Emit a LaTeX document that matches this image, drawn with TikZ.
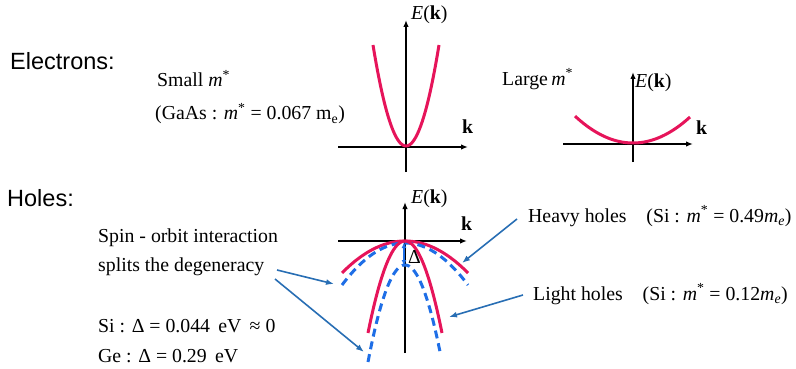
\documentclass[tikz,border=0pt]{standalone}
\usepackage{fontspec}
\setmainfont{Liberation Serif}
\newfontfamily\arialf{Liberation Sans}
\usetikzlibrary{arrows.meta}
\definecolor{bandred}{RGB}{230,20,90}
\definecolor{banddash}{RGB}{30,110,230}
\definecolor{annblue}{RGB}{40,110,180}
\tikzset{
  heading/.style={font=\arialf\fontsize{23.5}{28}\selectfont, anchor=base west, inner sep=0pt},
  lbl/.style={font=\fontsize{19.8}{24}\selectfont, anchor=base west, inner sep=0pt},
  axis/.style={black, line width=1.5pt, -{Latex[length=7pt,width=5.5pt]}},
  redband/.style={bandred, line width=3pt},
  dashband/.style={banddash, line width=3pt, dash pattern=on 8pt off 5pt},
  annot/.style={annblue, line width=1.6pt, -{Latex[length=8pt,width=6pt]}}
}
\newcommand{\mstar}{\textit{m}\textsuperscript{*}}
\newcommand{\Ek}{\textit{E}(\textbf{k})}
\begin{document}
\begin{tikzpicture}[x=1pt,y=-1pt]
\useasboundingbox (0,0) rectangle (796,369);
% headings
\node[heading] (el) at (10,70) {Electrons:};
\node[heading] (ho) at (7,206) {Holes:};
% electron labels
\node[lbl] (small) at (157,87) {Small \mstar};
\node[lbl] (gaas) at (155,120) {(GaAs : \mstar\ = 0.067 m\textsubscript{e})};
\node[lbl] (large) at (502,85) {Large\,\mstar};
% top-left graph
\draw[axis] (338,147) -- (468,147);
\draw[axis] (406,172) -- (406,20);
\node[lbl] (e1) at (411,20) {\Ek};
\node[lbl] (k1) at (462,133) {\textbf{k}};
\draw[redband] plot[domain=-33:33, samples=60] ({406+\x},{146-101*(\x/33)^2});
% top-right graph
\draw[axis] (563,144) -- (693,144);
\draw[axis] (633,162) -- (633,72);
\node[lbl] (e2) at (635,88) {\Ek};
\node[lbl] (k2) at (696,135) {\textbf{k}};
\draw[redband] plot[domain=-58:57, samples=60] ({633+\x},{143-26*(\x/57)^2});
% holes graph
\draw[axis] (338,241) -- (467,241);
\draw[axis] (405,353) -- (405,202);
\node[lbl] (e3) at (411,203) {\Ek};
\node[lbl] (k3) at (461,230) {\textbf{k}};
\draw[redband] plot[domain=-63:63, samples=60] ({405+\x},{241+32*(\x/63)^2});
\draw[dashband] plot[domain=-63:63, samples=60] ({405+\x},{243+42*(\x/63)^2});
\draw[redband] plot[domain=-37:37, samples=60] ({405+\x},{241+92*(\x/37)^2});
\draw[dashband] plot[domain=-37:35, samples=60] ({405+\x},{265+97*(\x/37)^2});
% splitting arrow
\coordinate (dtop) at (404,242);
\coordinate (dbot) at (404,266);
\draw[banddash, line width=2pt, {Latex[length=6pt,width=5pt]}-{Latex[length=6pt,width=5pt]}] (dtop) -- (dbot);
\node[lbl] (delta) at (408,263) {Δ};
% hole labels
\node[lbl] (spin) at (98,242) {Spin - orbit interaction};
\node[lbl] (split) at (98,271) {splits the degeneracy};
\node[lbl] (si) at (98,332) {Si : Δ = 0.044\, eV\, ≈ 0};
\node[lbl] (ge) at (98,362) {Ge : Δ = 0.29\, eV};
\node[lbl] (heavy) at (528,222) {Heavy holes\quad (Si : \mstar\ = 0.49\textit{m}\textsubscript{\textit{e}})};
\node[lbl] (light) at (533,300) {Light holes\quad (Si : \mstar\ = 0.12\textit{m}\textsubscript{\textit{e}})};
% annotation arrows
\coordinate (s1) at (277,270);
\coordinate (s1e) at (334,284);
\coordinate (s2) at (275,279);
\coordinate (s2e) at (364,352);
\coordinate (h1) at (517,219);
\coordinate (h1e) at (462,263);
\coordinate (l1) at (523,295);
\coordinate (l1e) at (449,317);
\draw[annot] (s1) -- (s1e);
\draw[annot] (s2) -- (s2e);
\draw[annot] (h1) -- (h1e);
\draw[annot] (l1) -- (l1e);
\end{tikzpicture}
\end{document}
